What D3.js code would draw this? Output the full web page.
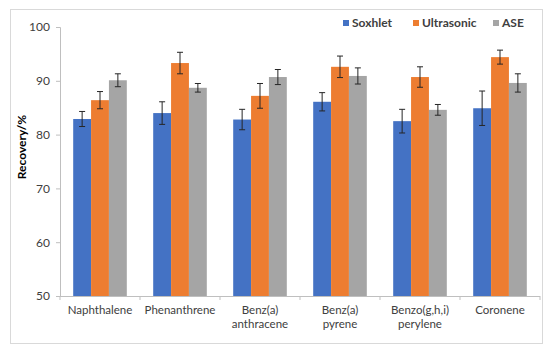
<!DOCTYPE html>
<html>
<head>
<meta charset="utf-8">
<script src="https://cdnjs.cloudflare.com/ajax/libs/d3/7.8.5/d3.min.js"></script>
<style>
	body { margin: 0; background: #fff; }
	text { font-family: Lato, "Open Sans", sans-serif; }
</style>
</head>
<body>
<div id="chart"></div>
<script>

var categories = [["Naphthalene"], ["Phenanthrene"], ["Benz(a)", "anthracene"], ["Benz(a)", "pyrene"], ["Benzo(g,h,i)", "perylene"], ["Coronene"]];
var seriesNames = ["Soxhlet", "Ultrasonic", "ASE"];
var soxhlet = [82.9, 84.0, 82.8, 86.1, 82.5, 84.9];
var ultrasonic = [86.4, 93.3, 87.2, 92.6, 90.7, 94.4];
var ase = [90.1, 88.7, 90.7, 90.9, 84.6, 89.6];
var soxhletErr = [1.4, 2.1, 1.9, 1.7, 2.2, 3.2];
var ultrasonicErr = [1.6, 2.0, 2.3, 2.0, 1.9, 1.3];
var aseErr = [1.2, 0.8, 1.4, 1.5, 1.0, 1.7];
var yTicks = [50, 60, 70, 80, 90, 100];

var colors = ["#4472C4", "#ED7D31", "#A5A5A5"];
var values = [soxhlet, ultrasonic, ase];
var errors = [soxhletErr, ultrasonicErr, aseErr];

var width = 550, height = 351;
var plotLeft = 60, plotRight = 540, plotTop = 27, plotBottom = 296;

var svg = d3.select("#chart").append("svg")
	.attr("width", width)
	.attr("height", height);

// chart border
svg.append("rect")
	.attr("x", 10.5).attr("y", 9.5)
	.attr("width", 532).attr("height", 334)
	.attr("fill", "none")
	.attr("stroke", "#d9d9d9");

var x = d3.scaleBand()
	.domain(d3.range(categories.length))
	.range([plotLeft, plotRight])
	.paddingInner(0.33)
	.paddingOuter(0.165);

var xBand = d3.scaleBand()
	.domain(d3.range(categories.length))
	.range([plotLeft, plotRight]);

var xSub = d3.scaleBand()
	.domain(d3.range(seriesNames.length))
	.range([0, x.bandwidth()]);

var y = d3.scaleLinear()
	.domain([50, 100])
	.range([plotBottom, plotTop]);

// y axis
var yAxis = svg.append("g")
	.attr("transform", "translate(" + plotLeft + ",0)")
	.call(d3.axisLeft(y).tickValues(yTicks).tickSize(4).tickPadding(6));
yAxis.select(".domain").attr("stroke", "#bfbfbf");
yAxis.selectAll(".tick line").attr("stroke", "#bfbfbf");
yAxis.selectAll(".tick text")
	.attr("fill", "#404040")
	.style("font-family", "Lato, sans-serif")
	.style("font-size", "12px");

// bars
var data = [];
values.forEach(function(series, s) {
	series.forEach(function(v, i) {
		data.push({ s: s, i: i, v: v, e: errors[s][i] });
	});
});

svg.selectAll("rect.bar")
	.data(data)
	.enter()
		.append("rect")
		.attr("class", "bar")
		.attr("x", function(d) { return x(d.i) + xSub(d.s); })
		.attr("y", function(d) { return y(d.v); })
		.attr("width", xSub.bandwidth())
		.attr("height", function(d) { return y(50) - y(d.v); })
		.attr("fill", function(d) { return colors[d.s]; });

// error bars
var err = svg.selectAll("g.err")
	.data(data)
	.enter()
		.append("g")
		.attr("class", "err")
		.attr("stroke", "#262626")
		.attr("stroke-width", 1);

err.append("line")
	.attr("x1", function(d) { return x(d.i) + xSub(d.s) + xSub.bandwidth() / 2; })
	.attr("x2", function(d) { return x(d.i) + xSub(d.s) + xSub.bandwidth() / 2; })
	.attr("y1", function(d) { return y(d.v - d.e); })
	.attr("y2", function(d) { return y(d.v + d.e); });

[-1, 1].forEach(function(sign) {
	err.append("line")
		.attr("x1", function(d) { return x(d.i) + xSub(d.s) + xSub.bandwidth() / 2 - 3; })
		.attr("x2", function(d) { return x(d.i) + xSub(d.s) + xSub.bandwidth() / 2 + 3; })
		.attr("y1", function(d) { return y(d.v + sign * d.e); })
		.attr("y2", function(d) { return y(d.v + sign * d.e); });
});

// x axis
var xAxis = svg.append("g")
	.attr("transform", "translate(0," + plotBottom + ")");
xAxis.append("line")
	.attr("x1", plotLeft).attr("x2", plotRight)
	.attr("y1", 0.5).attr("y2", 0.5)
	.attr("stroke", "#bfbfbf");
xAxis.selectAll("line.tick")
	.data(d3.range(categories.length + 1))
	.enter()
		.append("line")
		.attr("class", "tick")
		.attr("x1", function(d) { return d < categories.length ? xBand(d) : plotRight; })
		.attr("x2", function(d) { return d < categories.length ? xBand(d) : plotRight; })
		.attr("y1", 0).attr("y2", 4)
		.attr("stroke", "#bfbfbf");

var labels = xAxis.selectAll("text.cat")
	.data(categories)
	.enter()
		.append("text")
		.attr("class", "cat")
		.attr("text-anchor", "middle")
		.attr("fill", "#404040")
		.style("font-size", "11.5px")
		.attr("x", function(d, i) { return xBand(i) + xBand.bandwidth() / 2; })
		.attr("y", 18);
labels.selectAll("tspan")
	.data(function(d) { return d; })
	.enter()
		.append("tspan")
		.attr("x", function() { return d3.select(this.parentNode).attr("x"); })
		.attr("dy", function(d, j) { return j === 0 ? 0 : 14; })
		.text(function(d) { return d; });

// y axis title
svg.append("text")
	.attr("transform", "translate(26,147) rotate(-90)")
	.attr("text-anchor", "middle")
	.attr("fill", "#000")
	.style("font-size", "12px")
	.style("font-weight", "bold")
	.text("Recovery/%");

// legend
var legendX = [343, 413, 493];
var legend = svg.selectAll("g.legend")
	.data(seriesNames)
	.enter()
		.append("g")
		.attr("class", "legend")
		.attr("transform", function(d, i) { return "translate(" + legendX[i] + ",23)"; });
legend.append("rect")
	.attr("x", 0).attr("y", -3)
	.attr("width", 6).attr("height", 6)
	.attr("fill", function(d, i) { return colors[i]; });
legend.append("text")
	.attr("x", 9).attr("y", 4)
	.attr("fill", "#404040")
	.style("font-size", "12px")
	.style("font-weight", "bold")
	.text(function(d) { return d; });

</script>
</body>
</html>
